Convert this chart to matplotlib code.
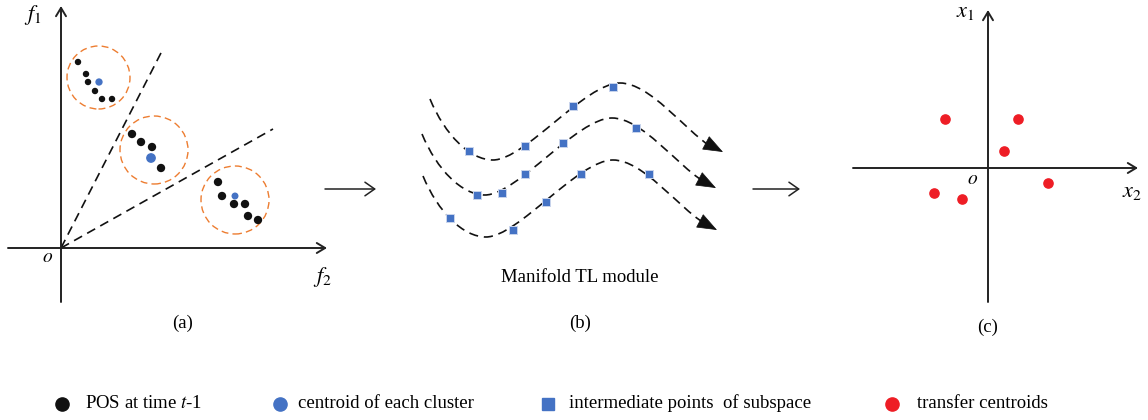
import matplotlib.pyplot as plt
from matplotlib.path import Path
from matplotlib.patches import PathPatch, Circle

plt.rcParams['font.family'] = ['Liberation Serif', 'DejaVu Serif']
plt.rcParams['mathtext.fontset'] = 'stix'

# ---- panel (a): POS points in (f2, f1) space, origin at 0 ----
pos_f2 = [17, 25, 27, 34, 41, 51, 71, 80, 91, 100, 157, 161, 173, 184, 187, 197]
pos_f1 = [186, 174, 166, 157, 149, 149, 114, 106, 101, 80, 66, 52, 44, 44, 32, 28]
pos_size = [13, 13, 13, 13, 13, 13, 25, 25, 25, 25, 25, 25, 25, 25, 25, 25]
cen_f2 = [38, 90, 174]
cen_f1 = [166, 90, 52]
cen_size = [18, 36, 16]
ring_r = [31.5, 34, 34]
ring_f2 = [37.5, 93, 174]
ring_f1 = [170.5, 98, 48]
boundary_f2 = [102, 212]
boundary_f1 = [199, 119]

# ---- panel (b): three manifold curves (bezier control points) and subspace points ----
curve_top = [(430, 99), (445, 135), (470, 160), (493, 160), (525, 160), (585, 83),
             (620, 83), (650, 83), (685, 130), (710, 146)]
curve_mid = [(422, 134), (437, 170), (462, 195), (485, 195), (517, 195), (577, 118),
             (612, 118), (642, 118), (677, 165), (703, 181)]
curve_bot = [(423, 176), (438, 212), (463, 237), (486, 237), (518, 237), (578, 160),
             (613, 160), (643, 160), (678, 207), (704, 223)]
tips = [(723, 152), (716, 188), (717, 230)]
sq_x = [469, 525, 573, 613, 477, 502, 525, 563, 636, 450, 513, 546, 581, 649]
sq_y = [151, 146, 106, 87, 195, 193, 174, 143, 128, 218, 230, 202, 174, 174]

# ---- panel (c): transfer centroids in (x2, x1) space ----
tc_x2 = [-43, 30, 16, 60, -54, -26]
tc_x1 = [49, 49, 17, -15, -25, -31]

legend_labels = ['POS at time $t$-1', 'centroid of each cluster',
                 'intermediate points  of subspace', 'transfer centroids']

BLUE = '#4472C4'
RED = '#EE1D25'
ORANGE = '#ED7D31'
W, H = 1148, 420

fig = plt.figure(figsize=(W / 100, H / 100), dpi=100)
bg = fig.add_axes([0, 0, 1, 1])
bg.set_xlim(0, W)
bg.set_ylim(H, 0)
bg.axis('off')

axis_arrow = dict(arrowstyle='->,head_length=0.5,head_width=0.3', lw=1.4,
                  color='#222222', mutation_scale=12, shrinkA=0, shrinkB=0)

# panel (a)
axa = fig.add_axes([0, (H - 340) / H, 340 / W, 340 / H])
axa.set_xlim(-61, 279)
axa.set_ylim(-92, 248)
axa.axis('off')
axa.annotate('', xy=(266, 0), xytext=(-53, 0), arrowprops=axis_arrow)
axa.annotate('', xy=(0, 242), xytext=(0, -54), arrowprops=axis_arrow)
for bx, by in zip(boundary_f2, boundary_f1):
    axa.plot([0, bx], [0, by], color='#111111', lw=1.2, dashes=(5.5, 3.5))
for cx, cy, r in zip(ring_f2, ring_f1, ring_r):
    axa.add_patch(Circle((cx, cy), r, fill=False, ec=ORANGE, lw=1.0, ls=(0, (5, 3))))
axa.scatter(pos_f2, pos_f1, s=pos_size, color='#111111', zorder=3)
axa.scatter(cen_f2, cen_f1, s=cen_size, color=BLUE, zorder=3)
axa.text(-28, 233, '$f_1$', fontsize=16, ha='center', va='center')
axa.text(261, -29, '$f_2$', fontsize=16, ha='center', va='center')
axa.text(-13, -10, '$o$', fontsize=14, ha='center', va='center')

# panel (b)
for pts, tip in zip([curve_top, curve_mid, curve_bot], tips):
    codes = [Path.MOVETO] + [Path.CURVE4] * (len(pts) - 1)
    bg.add_patch(PathPatch(Path(pts, codes), fill=False, ec='#111111', lw=1.2,
                           ls=(0, (5.5, 3.5))))
    bg.annotate('', xy=tip, xytext=(tip[0] - 16, tip[1] - 8.5),
                arrowprops=dict(arrowstyle='-|>,head_length=1.1,head_width=0.42',
                                color='#111111', lw=0.5, mutation_scale=12,
                                shrinkA=0, shrinkB=0))
bg.scatter(sq_x, sq_y, marker='s', s=36, color=BLUE, edgecolor='#c9d4ec', lw=0.7, zorder=3)
bg.text(580, 277, 'Manifold TL module', fontsize=13.5, ha='center', va='center')

# arrows between panels
link = dict(arrowstyle='->,head_length=0.5,head_width=0.35', lw=1.1, color='#222222',
            mutation_scale=14, shrinkA=0, shrinkB=0)
bg.annotate('', xy=(376, 189), xytext=(325, 189), arrowprops=link)
bg.annotate('', xy=(800, 189), xytext=(753, 189), arrowprops=link)

# panel (c)
axc = fig.add_axes([840 / W, (H - 340) / H, 308 / W, 340 / H])
axc.set_xlim(-148, 160)
axc.set_ylim(-172, 168)
axc.axis('off')
axc.annotate('', xy=(150, 0), xytext=(-135, 0), arrowprops=axis_arrow)
axc.annotate('', xy=(0, 158), xytext=(0, -134), arrowprops=axis_arrow)
axc.scatter(tc_x2, tc_x1, s=44, color=RED, zorder=3)
axc.text(-23, 155, '$x_1$', fontsize=16, ha='center', va='center')
axc.text(144, -24, '$x_2$', fontsize=16, ha='center', va='center')
axc.text(-15, -12, '$o$', fontsize=14, ha='center', va='center')

# sub-captions
bg.text(183, 323, '(a)', fontsize=13.5, ha='center', va='center')
bg.text(580, 323, '(b)', fontsize=13.5, ha='center', va='center')
bg.text(988, 327, '(c)', fontsize=13.5, ha='center', va='center')

# legend row
leg_x = [62, 280, 548, 892]
leg_text_x = [85, 298, 569, 917]
leg_marker = ['o', 'o', 's', 'o']
leg_color = ['#111111', BLUE, BLUE, RED]
leg_ms = [9.5, 9.5, 8.5, 9.5]
for x, tx, m, c, ms, lab in zip(leg_x, leg_text_x, leg_marker, leg_color, leg_ms, legend_labels):
    bg.plot([x], [404], marker=m, color=c, ms=ms, ls='none')
    bg.text(tx, 403, lab, fontsize=13.5, ha='left', va='center')

fig.savefig('out.png', dpi=100)
